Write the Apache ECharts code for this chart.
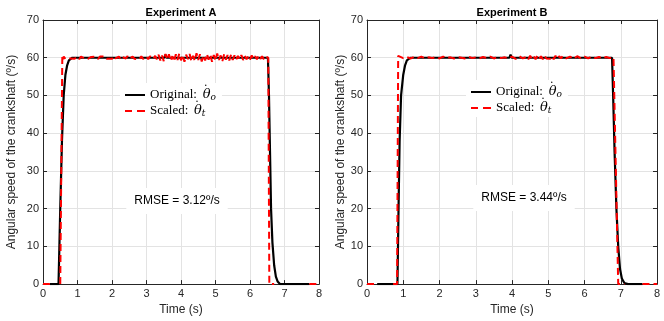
<!DOCTYPE html>
<html><head><meta charset="utf-8">
<script src="https://cdn.jsdelivr.net/npm/echarts@6/dist/echarts.min.js"></script>
<style>html,body{margin:0;padding:0;background:#fff}#c{width:664px;height:321px}</style>
</head><body><div id="c"></div>
<script>
// ---- data ----
const titles = ['Experiment A', 'Experiment B'];
const rmseLabels = ['RMSE = 3.12º/s', 'RMSE = 3.44º/s'];
const xTickRange = [0, 8];
const yTickRange = [0, 70];

const originalA = [[0.2,0],[0.45,0],[0.5,20],[0.55,38],[0.6,50],[0.65,55.5],[0.7,58],[0.75,59.3],[0.8,59.8],[0.85,60],
  [3.52,60],[3.55,60.8],[3.58,60],[6.52,60],[6.55,50],[6.58,35],[6.61,20],[6.65,11],[6.7,5],[6.75,2],[6.8,0.7],[6.87,0],[7.72,0]];

const scaledA = [[0,0],[0.2,0],[0.3,'-'],[0.5,0],[0.56,60.6],[0.58,59.6],
  [0.6,60.3],[0.65,59.7],[0.7,60.2],[0.8,59.8],[0.85,60.3],[0.9,59.7],[1.0,60.2],[1.05,59.6],[1.1,60.3],[1.2,59.8],
  [1.25,60.3],[1.3,59.7],[1.4,60.2],[1.45,59.7],[1.5,60.3],[1.6,59.7],[1.65,60.3],[1.7,59.8],[1.8,60.3],[1.85,59.7],
  [1.9,60.2],[2.0,59.7],[2.05,60.4],[2.1,59.8],[2.2,60.3],[2.25,59.6],[2.3,60.2],[2.4,59.8],[2.45,60.4],[2.5,59.7],
  [2.6,60.3],[2.65,59.7],[2.7,60.2],[2.8,59.6],[2.85,60.4],[2.9,59.7],[3.0,60.3],[3.05,59.6],[3.1,60.4],[3.2,59.7],
  [3.25,60.5],[3.3,59.6],
  [3.35,60.8],[3.4,59.3],[3.45,60.6],[3.5,59.1],[3.55,61.0],[3.6,59.5],[3.65,60.9],[3.7,59.2],[3.75,60.4],[3.8,59.0],
  [3.85,60.9],[3.9,59.4],[3.95,61.1],[4.0,59.3],[4.05,60.7],[4.1,58.9],[4.15,60.8],[4.2,59.6],[4.25,61.0],[4.3,59.1],
  [4.35,60.5],[4.4,59.2],[4.45,61.2],[4.5,59.4],[4.55,60.9],[4.6,59.0],[4.65,60.6],[4.7,59.3],[4.75,61.0],[4.8,59.5],
  [4.85,60.8],[4.9,58.9],[4.95,60.7],[5.0,59.2],[5.05,61.1],[5.1,59.4],[5.15,60.6],[5.2,59.1],[5.25,60.9],[5.3,59.5],
  [5.35,60.7],[5.4,59.3],[5.45,60.8],[5.5,59.4],
  [5.55,60.6],[5.6,59.5],[5.65,60.5],[5.7,59.6],[5.75,60.7],[5.8,59.4],[5.85,60.5],[5.9,59.6],[5.95,60.4],[6.0,59.5],
  [6.05,60.6],[6.1,59.7],[6.15,60.4],[6.2,59.6],[6.25,60.5],[6.3,59.7],[6.35,60.4],[6.4,59.6],[6.45,60.3],[6.5,60.0],
  [6.53,60],[6.56,0],[6.7,0],[6.8,'-'],[7.72,0],[8,0]];

const originalB = [[0.28,0],[0.84,0],[0.87,20],[0.9,38],[0.94,50],[1.0,55.5],[1.05,58],[1.1,59.3],[1.15,59.8],[1.2,60],
  [3.93,60],[3.96,60.8],[3.99,60],[6.76,60],[6.79,50],[6.83,35],[6.88,20],[6.93,10],[6.98,4],[7.03,1.5],[7.1,0.3],[7.2,0],[7.6,0]];

const scaledB = [[0,0],[0.28,0],[0.4,'-'],[0.72,0],[0.83,0],[0.86,60.5],
  [0.9,60.3],[1.0,59.9],[1.1,60.2],[1.2,59.8],[1.3,60.2],[1.4,59.9],[1.5,60.3],[1.6,59.8],[1.7,60.1],[1.8,59.9],
  [1.9,60.2],[2.0,59.8],[2.1,60.3],[2.2,59.9],[2.3,60.1],[2.4,59.8],[2.5,60.2],[2.6,60.0],[2.7,59.8],[2.8,60.3],
  [2.9,59.9],[3.0,60.1],[3.1,59.8],[3.2,60.2],[3.3,59.9],[3.4,60.3],[3.5,59.8],[3.6,60.2],[3.7,59.9],[3.8,60.1],
  [3.9,59.8],[4.0,60.3],[4.1,59.7],[4.2,60.4],[4.3,59.8],[4.4,60.3],[4.45,59.6],[4.5,60.5],[4.55,59.7],[4.6,60.4],
  [4.65,59.6],[4.7,60.5],[4.75,59.7],[4.8,60.4],[4.85,59.6],[4.9,60.5],[4.95,59.8],[5.0,60.3],[5.05,59.7],[5.1,60.4],
  [5.15,59.6],[5.2,60.5],[5.25,59.7],[5.3,60.4],[5.35,59.8],[5.4,60.5],[5.5,59.8],[5.6,60.3],[5.7,59.7],[5.8,60.4],
  [5.9,59.8],[6.0,60.3],[6.1,59.8],[6.2,60.3],[6.3,59.9],[6.4,60.2],[6.5,59.8],[6.6,60.2],[6.7,59.9],[6.8,60.1],
  [6.84,60],[6.93,0],[7.1,0],[7.2,'-'],[7.6,0],[8,0]];

// ---- chart ----
const TXT = '#262626';
const grids = [
  {left: 43, right: 345, top: 20, bottom: 35},
  {left: 367, right: 7, top: 20, bottom: 35}
];
function xAxes(gi) {
  return [{
    gridIndex: gi, type: 'value', min: xTickRange[0], max: xTickRange[1], interval: 1,
    name: 'Time (s)', nameLocation: 'middle', nameGap: 19,
    nameTextStyle: {fontFamily: 'Liberation Sans', fontSize: 12, color: TXT},
    axisLine: {onZero: false, lineStyle: {color: TXT, width: 1}},
    axisTick: {inside: true, length: 4, lineStyle: {color: TXT}},
    axisLabel: {fontFamily: 'Liberation Sans', fontSize: 11, color: TXT, margin: 4},
    splitLine: {show: true, lineStyle: {color: '#e3e3e3', width: 1}}
  }, {
    gridIndex: gi, type: 'value', position: 'top', min: xTickRange[0], max: xTickRange[1], interval: 1,
    axisLine: {onZero: false, lineStyle: {color: TXT, width: 1}},
    axisTick: {inside: true, length: 4, lineStyle: {color: TXT}},
    axisLabel: {show: false}, splitLine: {show: false}
  }];
}
function yAxes(gi, gap) {
  return [{
    gridIndex: gi, type: 'value', min: yTickRange[0], max: yTickRange[1], interval: 10,
    name: 'Angular speed of the crankshaft (º/s)', nameLocation: 'middle', nameGap: gap,
    nameTextStyle: {fontFamily: 'Liberation Sans', fontSize: 12, color: TXT},
    axisLine: {show: true, onZero: false, lineStyle: {color: TXT, width: 1}},
    axisTick: {show: true, inside: true, length: 4, lineStyle: {color: TXT}},
    axisLabel: {fontFamily: 'Liberation Sans', fontSize: 11, color: TXT, margin: 4},
    splitLine: {show: true, lineStyle: {color: '#e3e3e3', width: 1}}
  }, {
    gridIndex: gi, type: 'value', position: 'right', min: yTickRange[0], max: yTickRange[1], interval: 10,
    axisLine: {show: true, onZero: false, lineStyle: {color: TXT, width: 1}},
    axisTick: {show: true, inside: true, length: 4, lineStyle: {color: TXT}},
    axisLabel: {show: false}, splitLine: {show: false}
  }];
}
function seriesPair(gi, orig, scaled) {
  return [{
    name: 'Original', type: 'line', xAxisIndex: gi * 2, yAxisIndex: gi * 2, data: orig,
    symbol: 'none', showSymbol: false, animation: false, z: 3,
    lineStyle: {color: '#000', width: 2.2}, itemStyle: {color: '#000'}
  }, {
    name: 'Scaled', type: 'line', xAxisIndex: gi * 2, yAxisIndex: gi * 2, data: scaled,
    symbol: 'none', showSymbol: false, animation: false, z: 4, connectNulls: false,
    lineStyle: {color: '#ff0000', width: 2, type: [7, 4]}, itemStyle: {color: '#ff0000'}
  }];
}
const legendRich = {
  d: {fontFamily: 'DejaVu Serif', fontSize: 12, color: '#000', width: 0.01, padding: [0, 0, 6, 2.5]},
  g: {fontFamily: 'DejaVu Serif', fontStyle: 'italic', fontSize: 13, color: '#000'},
  s: {fontFamily: 'DejaVu Serif', fontStyle: 'italic', fontSize: 9, color: '#000', padding: [5, 0, 0, 0]}
};
function legendFmt(n) {
  return n === 'Original' ? 'Original: {d|˙}{g|θ}{s|o}' : 'Scaled: {d|˙}{g|θ}{s|t}';
}
function legend(left, top) {
  return {
    show: true, orient: 'vertical', left: left, top: top, itemWidth: 20, itemHeight: 2.5, itemGap: 0,
    padding: [3, 6, 2, 5], backgroundColor: '#fff', selectedMode: false,
    data: [
      {name: 'Original', icon: 'path://M0,0h20v2h-20z'},
      {name: 'Scaled', icon: 'path://M0,0h7v2h-7zM12,0h8v2h-8z'}
    ],
    formatter: legendFmt,
    textStyle: {fontFamily: 'Liberation Serif', fontSize: 13, color: '#000', rich: legendRich}
  };
}
function textG(x, y, txt, bold, bg) {
  return {
    type: 'text', x: x, y: y, z: 100,
    style: {
      text: txt, fill: '#000', textAlign: 'center', textVerticalAlign: 'middle',
      font: (bold ? 'bold 11px' : '12px') + ' "Liberation Sans"',
      backgroundColor: bg ? '#fff' : null, padding: bg ? [9, 8, 5, 8] : 0
    }
  };
}
const chart = echarts.init(document.getElementById('c'), null, {renderer: 'canvas'});
chart.setOption({
  animation: false,
  backgroundColor: '#fff',
  grid: grids,
  xAxis: [...xAxes(0), ...xAxes(1)],
  yAxis: [...yAxes(0, 25), ...yAxes(1, 15)],
  legend: [legend(120, 83), legend(466, 80)],
  series: [...seriesPair(0, originalA, scaledA), ...seriesPair(1, originalB, scaledB)],
  graphic: [
    textG(181, 13, titles[0], true, false),
    textG(512, 13, titles[1], true, false),
    textG(177, 201, rmseLabels[0], false, true),
    textG(524, 198, rmseLabels[1], false, true)
  ]
});
</script></body></html>
